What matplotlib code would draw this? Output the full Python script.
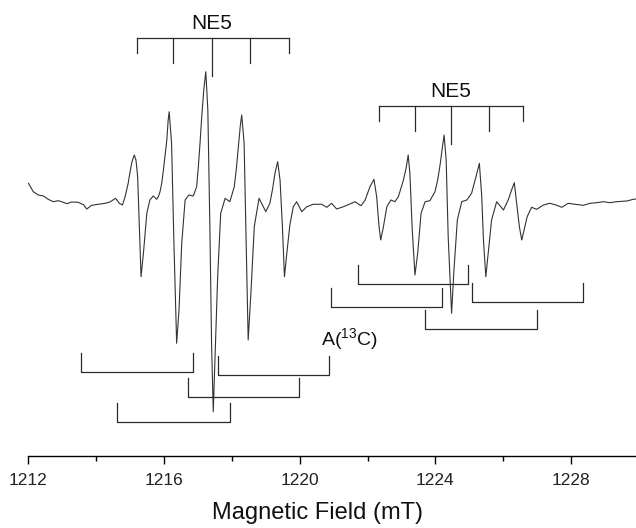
import matplotlib
matplotlib.use("Agg")
import matplotlib.pyplot as plt

plt.rcParams['font.family'] = ['Liberation Sans', 'DejaVu Sans']
plt.rcParams['mathtext.fontset'] = 'custom'
plt.rcParams['mathtext.rm'] = 'Liberation Sans'

# EPR trace: field (mT) and signal (arb. units, baseline ~0)
field = [
    1212.00, 1212.14, 1212.29, 1212.44, 1212.58, 1212.73, 1212.88, 1213.03, 1213.13, 1213.27,
    1213.47, 1213.62, 1213.72, 1213.86, 1214.06, 1214.26, 1214.40, 1214.57, 1214.68, 1214.77,
    1214.85, 1214.94, 1214.99, 1215.05, 1215.12, 1215.17, 1215.22, 1215.27, 1215.32, 1215.39,
    1215.49, 1215.58, 1215.68, 1215.78, 1215.83, 1215.88, 1215.93, 1215.98, 1216.03, 1216.08,
    1216.12, 1216.15, 1216.22, 1216.29, 1216.37, 1216.44, 1216.52, 1216.62, 1216.73, 1216.86,
    1216.96, 1217.01, 1217.06, 1217.11, 1217.17, 1217.23, 1217.29, 1217.35, 1217.40, 1217.45,
    1217.50, 1217.58, 1217.67, 1217.80, 1217.94, 1218.07, 1218.13, 1218.19, 1218.25, 1218.29,
    1218.36, 1218.42, 1218.48, 1218.56, 1218.66, 1218.80, 1219.00, 1219.12, 1219.20, 1219.27,
    1219.35, 1219.42, 1219.49, 1219.55, 1219.63, 1219.71, 1219.81, 1219.91, 1220.06, 1220.21,
    1220.40, 1220.65, 1220.80, 1220.94, 1221.09, 1221.29, 1221.48, 1221.63, 1221.81, 1221.93,
    1222.07, 1222.19, 1222.27, 1222.34, 1222.39, 1222.47, 1222.57, 1222.69, 1222.81, 1222.91,
    1223.06, 1223.14, 1223.20, 1223.25, 1223.32, 1223.40, 1223.48, 1223.58, 1223.70, 1223.84,
    1223.99, 1224.07, 1224.14, 1224.21, 1224.26, 1224.32, 1224.38, 1224.48, 1224.55, 1224.65,
    1224.78, 1224.93, 1225.07, 1225.20, 1225.30, 1225.37, 1225.42, 1225.49, 1225.56, 1225.66,
    1225.81, 1226.01, 1226.15, 1226.25, 1226.33, 1226.40, 1226.48, 1226.55, 1226.62, 1226.71,
    1226.84, 1226.99, 1227.19, 1227.38, 1227.56, 1227.73, 1227.92, 1228.12, 1228.37, 1228.56,
    1228.76, 1228.96, 1229.15, 1229.35, 1229.65, 1229.84, 1229.92,
]
signal = [
    21.7, 13.3, 10.0, 9.0, 5.7, 3.3, 4.3, 2.7, 1.3, 3.0,
    2.7, 0.3, -4.0, -0.3, 0.7, 1.7, 3.0, 6.7, 1.7, 0.0,
    8.3, 21.7, 32.0, 43.0, 50.0, 45.0, 28.3, -21.7, -71.7, -48.3,
    -8.3, 5.0, 9.0, 5.7, 8.3, 13.3, 21.7, 35.0, 50.0, 65.0,
    85.0, 93.3, 61.7, -38.3, -138.3, -105.0, -38.3, 5.0, 10.0, 9.0,
    18.3, 38.3, 62.0, 88.3, 115.0, 133.3, 95.0, -21.7, -138.3, -206.7,
    -155.0, -71.7, -8.3, 6.7, 3.3, 18.3, 36.0, 58.3, 80.0, 90.0,
    61.7, -38.3, -135.0, -88.3, -21.7, 6.7, -6.7, 1.7, 16.0, 31.7,
    43.3, 25.0, -21.7, -71.7, -45.0, -20.0, -1.7, 3.3, -6.7, -1.7,
    0.7, 0.7, -2.3, 1.7, -4.0, -1.7, 1.0, 3.3, -0.7, 5.0,
    18.0, 25.7, 8.3, -21.7, -35.0, -21.7, -1.7, 5.0, 3.3, 8.3,
    25.0, 37.0, 50.0, 31.7, -25.0, -70.0, -48.3, -8.3, 3.3, 4.3,
    13.3, 25.0, 40.0, 58.0, 70.0, 45.0, -31.7, -108.3, -65.0, -15.0,
    3.3, 5.0, 11.7, 28.3, 41.7, 8.3, -35.0, -71.7, -48.3, -15.0,
    3.3, -5.0, 5.0, 15.0, 22.3, 1.7, -21.7, -35.0, -25.0, -11.7,
    -2.3, -4.3, 0.0, 1.7, 0.0, -2.3, 1.7, 0.7, -0.3, 1.7,
    2.3, 3.3, 2.3, 3.3, 4.0, 5.7, 6.0,
]

# NE5 stick diagrams (line positions in mT)
ne5_left = [1215.19, 1216.27, 1217.40, 1218.53, 1219.68]
ne5_right = [1222.35, 1223.41, 1224.46, 1225.58, 1226.59]
ne5_left_bar = 167
ne5_right_bar = 99
stick_drop = [15, 25, 38, 25, 15]   # how far each stick hangs below its bar

# A(13C) splitting brackets: start, end (mT), bar level, height of end ticks
c13_start = [1213.55, 1214.61, 1216.71, 1217.59, 1220.92, 1221.72, 1223.70, 1225.08]
c13_end = [1216.85, 1217.94, 1219.98, 1220.86, 1224.20, 1224.96, 1227.00, 1228.36]
c13_level = [-167, -217, -192, -170, -102, -79, -124, -97]
c13_rise = 19

x_ticks = [1212, 1216, 1220, 1224, 1228]
x_minor = [1214, 1218, 1222, 1226]

fig = plt.figure(figsize=(6.36, 5.28), dpi=100)
ax = fig.add_axes([28.5 / 636, 72 / 528, 607.5 / 636, 456 / 528])

ink = '#2a2a2a'
ax.plot(field, signal, color='#333333', lw=0.8)

for pos, bar in ((ne5_left, ne5_left_bar), (ne5_right, ne5_right_bar)):
    ax.plot([pos[0], pos[-1]], [bar, bar], color=ink, lw=0.9)
    for p, d in zip(pos, stick_drop):
        ax.plot([p, p], [bar, bar - d], color=ink, lw=0.9)
    ax.text(pos[2], bar + 5, 'NE5', ha='center', va='bottom', fontsize=15, color='#111111')

for s, e, lv in zip(c13_start, c13_end, c13_level):
    ax.plot([s, s, e, e], [lv + c13_rise, lv, lv, lv + c13_rise], color=ink, lw=0.9)

ax.text(1221.48, -135, r'A($^{\mathregular{13}}$C)', ha='center', va='center',
        fontsize=14, color='#111111')

ax.set_xlim(1212, 1229.92)
ax.set_ylim(-251, 205)
ax.set_xticks(x_ticks)
ax.set_xticks(x_minor, minor=True)
ax.set_xticklabels([str(t) for t in x_ticks])
ax.set_yticks([])
for side in ('left', 'right', 'top'):
    ax.spines[side].set_visible(False)
ax.spines['bottom'].set_linewidth(1.0)
ax.tick_params(axis='x', which='major', direction='out', length=6, width=1.0,
               labelsize=12.5, pad=6, labelcolor='#222222')
ax.tick_params(axis='x', which='minor', direction='out', length=3.5, width=1.0)

fig.text(0.5, 1 - 513 / 528, 'Magnetic Field (mT)', ha='center', va='center',
         fontsize=17, color='#111111')

fig.savefig('out.png', dpi=100)
